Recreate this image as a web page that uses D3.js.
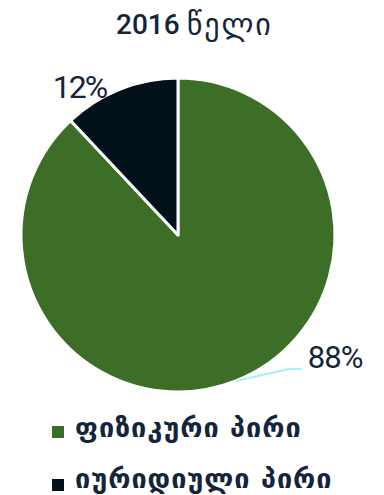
<!DOCTYPE html>
<html>
<head>
<meta charset="utf-8">
<script src="https://cdn.jsdelivr.net/npm/d3@7"></script>
<style>
  body { margin: 0; background: #fff; }
  svg { display: block; }
</style>
</head>
<body>
<svg id="chart" width="384" height="495"></svg>
<script>
// data
const titleYear = "2016";
const titleWord = "წელი";
const categories = ["ფიზიკური პირი", "იურიდიული პირი"];
const values = [88, 12];
const colors = ["#3c6e28", "#03111b"];

const svg = d3.select("#chart");
const cx = 178, cy = 235, radius = 157;
const textColor = "#14253b";

// title
const t = svg.append("text")
    .attr("x", 116)
    .attr("y", 34)
    .attr("font-family", "Roboto, 'DejaVu Sans', sans-serif")
    .attr("font-size", 28)
    .attr("font-weight", 500)
    .attr("fill", textColor);
t.append("tspan").text(titleYear + " ");
t.append("tspan")
    .attr("font-family", "'DejaVu Sans', sans-serif")
    .attr("font-size", 30)
    .attr("letter-spacing", 2)
    .attr("dy", 1)
    .text(titleWord);

const pie = d3.pie().sort(null).value(d => d);
const arcs = pie(values);
const arc = d3.arc().innerRadius(0).outerRadius(radius);

const g = svg.append("g").attr("transform", `translate(${cx},${cy})`);

g.selectAll("path.slice")
    .data(arcs)
    .enter()
    .append("path")
    .attr("class", "slice")
    .attr("d", arc)
    .attr("fill", (d, i) => colors[i])
    .attr("stroke", "#fff")
    .attr("stroke-width", 3)
    .attr("stroke-linejoin", "round");

// labels
const edge = d => {
  const a = (d.startAngle + d.endAngle) / 2;
  return [Math.sin(a) * radius, -Math.cos(a) * radius];
};

// 88% with leader line
const big = arcs[0];
const [bx, by] = edge(big);
g.append("polyline")
    .attr("points", [[bx, by], [bx + 53, by - 12], [bx + 66, by - 12]].map(p => p.join(",")).join(" "))
    .attr("fill", "none")
    .attr("stroke", "#a6f0f6")
    .attr("stroke-width", 2);
g.append("text")
    .attr("x", bx + 72)
    .attr("y", by - 13)
    .attr("font-family", "Roboto, sans-serif")
    .attr("font-size", 31)
    .attr("letter-spacing", -1)
    .attr("fill", textColor)
    .text(big.data + "%");

// 12% label, outside top-left
const small = arcs[1];
const [sx, sy] = edge(small);
g.append("text")
    .attr("x", sx - 14)
    .attr("y", sy + 9)
    .attr("text-anchor", "end")
    .attr("font-family", "Roboto, sans-serif")
    .attr("font-size", 32)
    .attr("letter-spacing", -2)
    .attr("fill", textColor)
    .text(small.data + "%");

// legend
const legend = svg.append("g").attr("transform", "translate(52,420)");
const yL = d3.scaleBand().domain(d3.range(categories.length)).range([0, 102]);
const items = legend.selectAll("g")
    .data(categories)
    .enter()
    .append("g")
    .attr("transform", (d, i) => `translate(0,${yL(i)})`);
items.append("rect")
    .attr("x", 0)
    .attr("y", (d, i) => i === 0 ? 6 : 8)
    .attr("width", 12)
    .attr("height", 12)
    .attr("fill", (d, i) => colors[i]);
items.append("text")
    .attr("x", 23)
    .attr("y", 17)
    .attr("font-family", "'DejaVu Sans', sans-serif")
    .attr("font-weight", "bold")
    .attr("font-size", 27)
    .attr("letter-spacing", 1)
    .attr("fill", textColor)
    .text(d => d);
</script>
</body>
</html>
